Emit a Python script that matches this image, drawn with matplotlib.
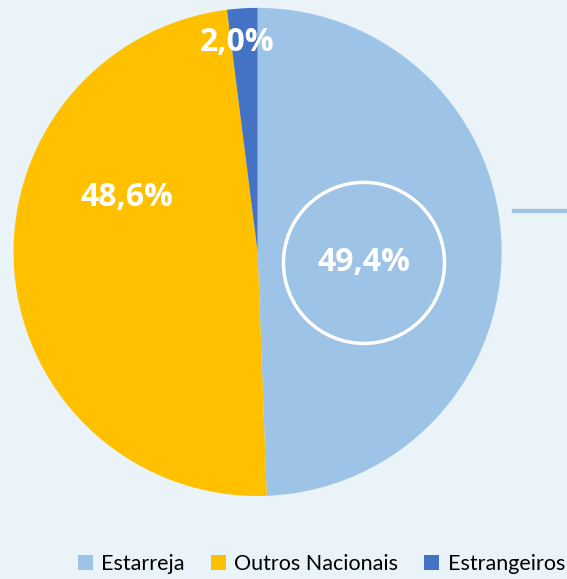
import matplotlib.pyplot as plt
from matplotlib.patches import Circle, Patch

labels = ["Estarreja", "Outros Nacionais", "Estrangeiros"]
values = [49.4, 48.6, 2.0]
pct_text = ["49,4%", "48,6%", "2,0%"]
colors = ["#9DC3E6", "#FFC000", "#4472C4"]
label_pos = [(0.436, -0.045), (-0.535, 0.225), (-0.084, 0.86)]

fig = plt.figure(figsize=(5.67, 5.79), dpi=100)
fig.patch.set_facecolor("#EAF3F7")

ax = fig.add_axes([0.0238, 0.1434, 0.861, 0.843])
ax.set_facecolor("none")
ax.pie(values, colors=colors, startangle=90, counterclock=False,
       wedgeprops=dict(linewidth=0))
ax.set_xlim(-1, 1)
ax.set_ylim(-1, 1)
ax.set_aspect("equal")

for txt, (x, y) in zip(pct_text, label_pos):
    ax.text(x, y, txt, ha="center", va="center", color="white",
            fontsize=23, fontweight="bold", family="Open Sans")

ax.add_patch(Circle(label_pos[0], 0.33, fill=False, edgecolor="white", linewidth=2.5))

# short connector line on the right
fig.add_artist(plt.Line2D([514 / 567, 1.0], [1 - 211 / 579, 1 - 211 / 579],
                          color="#9DC3E6", linewidth=3))

handles = [Patch(facecolor=c, edgecolor="none") for c in colors]
fig.legend(handles, labels, loc="center", bbox_to_anchor=(0.567, 1 - 564 / 579),
           ncol=3, frameon=False, handlelength=0.7, handleheight=0.7,
           handletextpad=0.4, columnspacing=1.2,
           prop=dict(family="Lato", size=15.5))

fig.savefig("out.png", dpi=100, facecolor=fig.get_facecolor())
